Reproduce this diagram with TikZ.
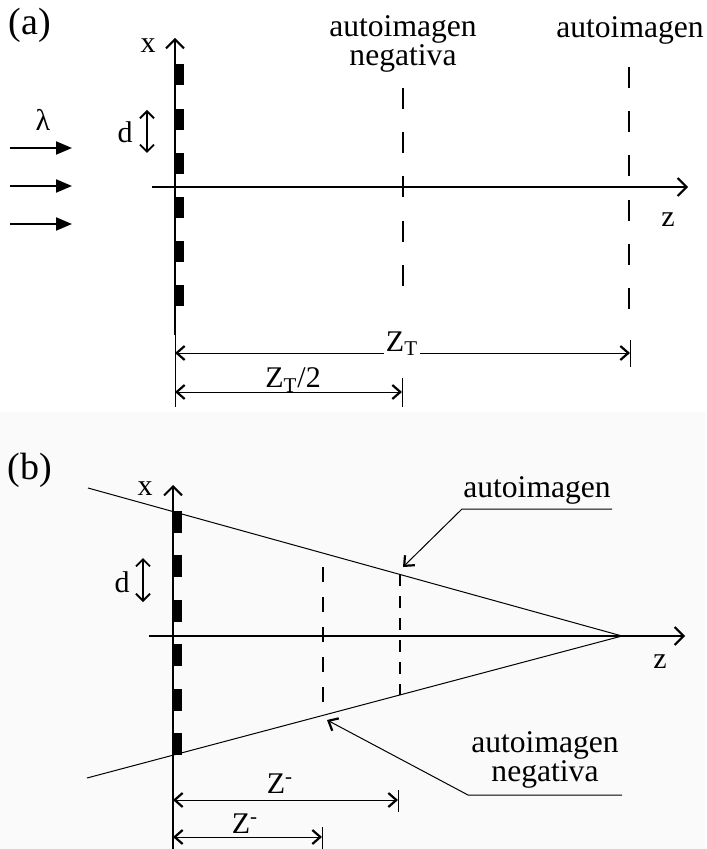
\documentclass[tikz,border=0pt]{standalone}
\usepackage{fontspec}
\setmainfont{Liberation Serif}
\usetikzlibrary{arrows.meta}
\begin{document}
\begin{tikzpicture}[x=0.5pt, y=-0.5pt, line join=round,
    big/.style={font=\fontsize{15.8}{13.5}\selectfont, inner sep=0pt, align=center},
    sml/.style={font=\fontsize{15}{15}\selectfont, inner sep=1pt},
    panel/.style={font=\fontsize{19}{19}\selectfont, inner sep=0pt},
    axis/.style={line width=1pt, -{Straight Barb[length=4.5pt, width=9pt]}},
    barb/.style={line width=0.4pt, {Straight Barb[length=4pt, width=7pt, line width=1.1pt]}-{Straight Barb[length=4pt, width=7pt, line width=1.1pt]}},
    lead/.style={line width=0.5pt, -{Straight Barb[length=4pt, width=7pt, line width=1.1pt]}},
    ext/.style={line width=0.4pt}]
    \fill[white] (0,0) rectangle (706,849);
    \fill[black!2] (0,412) rectangle (706,849);
    \useasboundingbox (0,0) rectangle (706,849);
    % (a)
    \node[panel] (ta) at (30,25) {(a)};
    \coordinate (xa0) at (175,335); \coordinate (xa1) at (175,38);
    \coordinate (za0) at (152,187); \coordinate (za1) at (688,187);
    \draw[axis] (za0) -- (za1);
    \draw[axis] (xa0) -- (xa1);
    \node[sml] (xla) at (148,46) {x};
    \node[sml] (zla) at (668,220) {z};
    \foreach \k in {0,...,5}
        \fill (175,{75+44.2*\k-10.5}) rectangle (183.5,{75+44.2*\k+10.5});
    \foreach \y/\id in {148/ia, 186/ib, 224/ic} {
        \coordinate (\id0) at (10,\y); \coordinate (\id1) at (72,\y);
        \draw[line width=1pt, -{Triangle[length=8pt, width=6.5pt]}] (\id0) -- (\id1);
    }
    \node[sml] (lam) at (43,120) {λ};
    \coordinate (da0) at (147,110); \coordinate (da1) at (147,153);
    \draw[line width=0.9pt, {Straight Barb[length=3.5pt, width=7pt]}-{Straight Barb[length=3.5pt, width=7pt]}] (da0) -- (da1);
    \node[sml] (dla) at (125,132) {d};
    \foreach \id/\x/\top/\bot in {na/403/88/288, pa/629/67/310} {
        \coordinate (\id0) at (\x,\top); \coordinate (\id1) at (\x,\bot);
        \draw[line width=1pt, dash pattern=on 10.5pt off 11.6pt] (\id0) -- (\id1);
    }
    \node[big] (nla) at (403,44) {autoimagen\\negativa};
    \node[big] (pla) at (630,30) {autoimagen};
    \coordinate (ea0) at (175,407);
    \draw[ext] (xa0) -- (ea0);
    \foreach \id/\x/\top/\bot in {ta/630/340/367, ha/402/378/407} {
        \coordinate (\id0) at (\x,\top); \coordinate (\id1) at (\x,\bot);
        \draw[ext] (\id0) -- (\id1);
    }
    \coordinate (zt0) at (175,353); \coordinate (zt1) at (630,353);
    \coordinate (zh0) at (175,392); \coordinate (zh1) at (402,392);
    \draw[barb] (zt0) -- (zt1);
    \draw[barb] (zh0) -- (zh1);
    \node[sml, fill=white] (ztl) at (402,344) {Z\textsubscript{T}};
    \node[sml] (zhl) at (293,380) {Z\textsubscript{T}/2};
    % (b)
    \node[panel] (tb) at (30,470) {(b)};
    \coordinate (xb0) at (173,849); \coordinate (xb1) at (173,485);
    \coordinate (zb0) at (149,636); \coordinate (zb1) at (685,636);
    \draw[axis] (zb0) -- (zb1);
    \draw[axis] (xb0) -- (xb1);
    \node[sml] (xlb) at (145,489) {x};
    \node[sml] (zlb) at (660,662) {z};
    \foreach \k in {0,...,5}
        \fill (173,{521.5+44.5*\k-11}) rectangle (181.5,{521.5+44.5*\k+11});
    \coordinate (fo) at (622,636);
    \coordinate (ub) at (88,488); \coordinate (lb) at (87,778);
    \draw[line width=0.5pt] (ub) -- (fo) -- (lb);
    \coordinate (nb0) at (323,567); \coordinate (nb1) at (323,702);
    \draw[line width=1pt, dash pattern=on 7.5pt off 7.5pt] (nb0) -- (nb1);
    \coordinate (pb0) at (400,574); \coordinate (pb1) at (400,695);
    \draw[line width=1.4pt, dash pattern=on 6pt off 5pt] (pb0) -- (pb1);
    \coordinate (db0) at (143,558); \coordinate (db1) at (143,602);
    \draw[line width=0.9pt, {Straight Barb[length=3.5pt, width=7pt]}-{Straight Barb[length=3.5pt, width=7pt]}] (db0) -- (db1);
    \node[sml] (dlb) at (122,582) {d};
    \node[big] (plb) at (537,490) {autoimagen};
    \coordinate (pu0) at (462,509); \coordinate (pu1) at (612,509); \coordinate (pt) at (403,567);
    \draw[lead] (pu1) -- (pu0) -- (pt);
    \node[big] (nlb) at (545,760) {autoimagen\\negativa};
    \coordinate (nu0) at (468,795); \coordinate (nu1) at (622,795); \coordinate (nt) at (327,720);
    \draw[lead] (nu1) -- (nu0) -- (nt);
    \foreach \id/\x/\top/\bot in {tb/398/790/812, hb/322/827/849} {
        \coordinate (\id0) at (\x,\top); \coordinate (\id1) at (\x,\bot);
        \draw[ext] (\id0) -- (\id1);
    }
    \coordinate (zp0) at (173,800); \coordinate (zp1) at (398,800);
    \coordinate (zm0) at (173,837); \coordinate (zm1) at (322,837);
    \draw[barb] (zp0) -- (zp1);
    \draw[barb] (zm0) -- (zm1);
    \node[sml] (zpl) at (280,784) {Z\textsuperscript{-}};
    \node[sml] (zml) at (245,824) {Z\textsuperscript{-}};
\end{tikzpicture}
\end{document}
